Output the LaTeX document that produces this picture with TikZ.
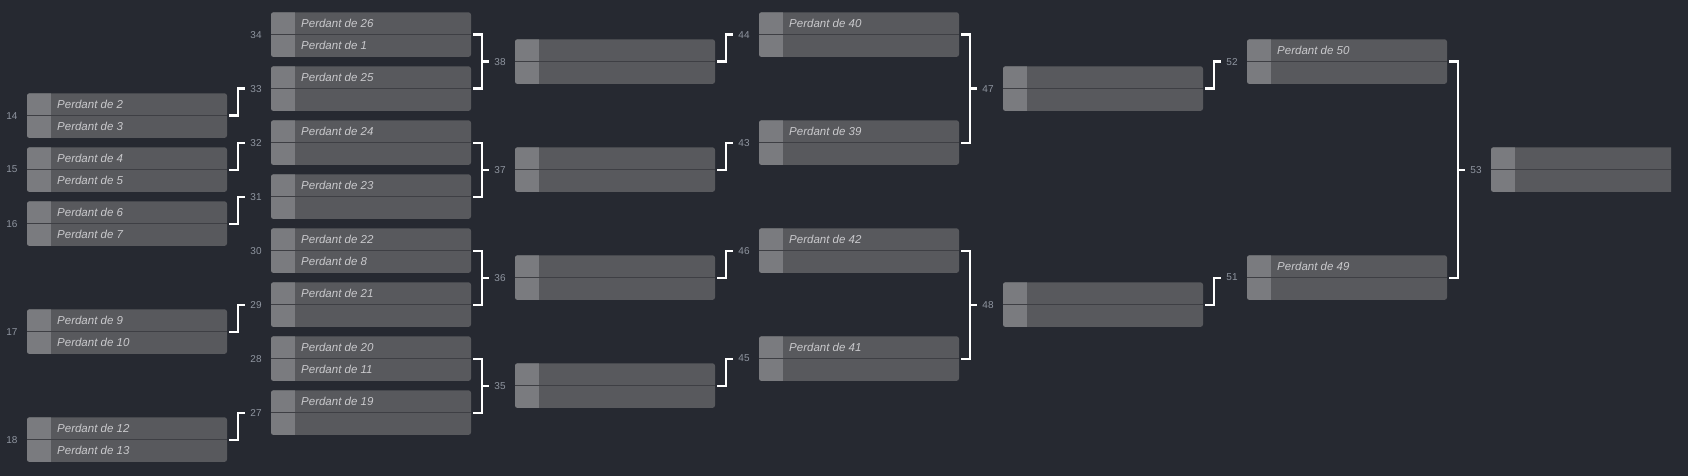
\documentclass[tikz,border=0pt]{standalone}
\usepackage{fontspec}
\setmainfont{Liberation Sans}
\definecolor{bgc}{HTML}{262931}
\definecolor{boxc}{HTML}{58595D}
\definecolor{sqc}{HTML}{7A7B7F}
\definecolor{sepc}{HTML}{3E3F44}
\definecolor{txtc}{HTML}{C9C9CC}
\definecolor{labc}{HTML}{8F95A0}
\tikzset{
  matchbox/.style={rectangle, fill=boxc, rounded corners=2.5pt, minimum width=200pt, minimum height=44.6pt, inner sep=0pt, outer sep=0pt},
  sqfill/.style={fill=sqc},
  sepline/.style={draw=sepc, line width=1pt},
  txt/.style={text=txtc, font=\fontsize{11.5}{13}\selectfont\itshape, inner sep=0pt, anchor=west},
  lab/.style={text=labc, font=\fontsize{10}{12}\selectfont, inner sep=0pt},
  conn/.style={draw=white, line width=2.2pt, line join=miter},
}
\newcommand\bmatch[5]{%
  \node[matchbox] (m#1) at ({127+244*#2},{34.6+54*#3}) {};
  \begin{scope}
    \clip[rounded corners=2.5pt] (m#1.north west) rectangle (m#1.south east);
    \fill[sqfill] (m#1.north west) rectangle ([xshift=24pt]m#1.south west);
  \end{scope}
  \draw[sepline] (m#1.west) -- (m#1.east);
  \node[txt] (m#1a) at ([xshift=30pt,yshift=11.1pt]m#1.west) {#4};
  \node[txt] (m#1b) at ([xshift=30pt,yshift=-11.1pt]m#1.west) {#5};
  \node[lab] (l#1) at ([xshift=-15pt]m#1.west) {#1};
}
\newcommand\sconn[2]{%
  \draw[conn] ([xshift=2pt]m#1.east) -- ++(9,0) |- ([xshift=-26pt]m#2.west);
}
\newcommand\bconn[3]{%
  \draw[conn] ([xshift=2pt]m#1.east) -- ++(9,0) |- ([xshift=2pt]m#2.east);
  \draw[conn] ([xshift=-34pt]m#3.west) -- ([xshift=-26pt]m#3.west);
}
\begin{document}
\begin{tikzpicture}[x=1pt,y=-1pt]
\fill[bgc] (0,0) rectangle (1688,476);
\useasboundingbox (0,0) rectangle (1688,476);
% column 1
\bmatch{14}{0}{1.5}{Perdant de 2}{Perdant de 3}
\bmatch{15}{0}{2.5}{Perdant de 4}{Perdant de 5}
\bmatch{16}{0}{3.5}{Perdant de 6}{Perdant de 7}
\bmatch{17}{0}{5.5}{Perdant de 9}{Perdant de 10}
\bmatch{18}{0}{7.5}{Perdant de 12}{Perdant de 13}
% column 2
\bmatch{34}{1}{0}{Perdant de 26}{Perdant de 1}
\bmatch{33}{1}{1}{Perdant de 25}{}
\bmatch{32}{1}{2}{Perdant de 24}{}
\bmatch{31}{1}{3}{Perdant de 23}{}
\bmatch{30}{1}{4}{Perdant de 22}{Perdant de 8}
\bmatch{29}{1}{5}{Perdant de 21}{}
\bmatch{28}{1}{6}{Perdant de 20}{Perdant de 11}
\bmatch{27}{1}{7}{Perdant de 19}{}
% column 3
\bmatch{38}{2}{0.5}{}{}
\bmatch{37}{2}{2.5}{}{}
\bmatch{36}{2}{4.5}{}{}
\bmatch{35}{2}{6.5}{}{}
% column 4
\bmatch{44}{3}{0}{Perdant de 40}{}
\bmatch{43}{3}{2}{Perdant de 39}{}
\bmatch{46}{3}{4}{Perdant de 42}{}
\bmatch{45}{3}{6}{Perdant de 41}{}
% column 5
\bmatch{47}{4}{1}{}{}
\bmatch{48}{4}{5}{}{}
% column 6
\bmatch{52}{5}{0.5}{Perdant de 50}{}
\bmatch{51}{5}{4.5}{Perdant de 49}{}
% column 7
\begin{scope}
\clip (0,0) rectangle (1671,476);
\bmatch{53}{6}{2.5}{}{}
\end{scope}
% connectors
\sconn{14}{33}
\sconn{15}{32}
\sconn{16}{31}
\sconn{17}{29}
\sconn{18}{27}
\bconn{34}{33}{38}
\bconn{32}{31}{37}
\bconn{30}{29}{36}
\bconn{28}{27}{35}
\sconn{38}{44}
\sconn{37}{43}
\sconn{36}{46}
\sconn{35}{45}
\bconn{44}{43}{47}
\bconn{46}{45}{48}
\sconn{47}{52}
\sconn{48}{51}
\bconn{52}{51}{53}
\end{tikzpicture}
\end{document}
